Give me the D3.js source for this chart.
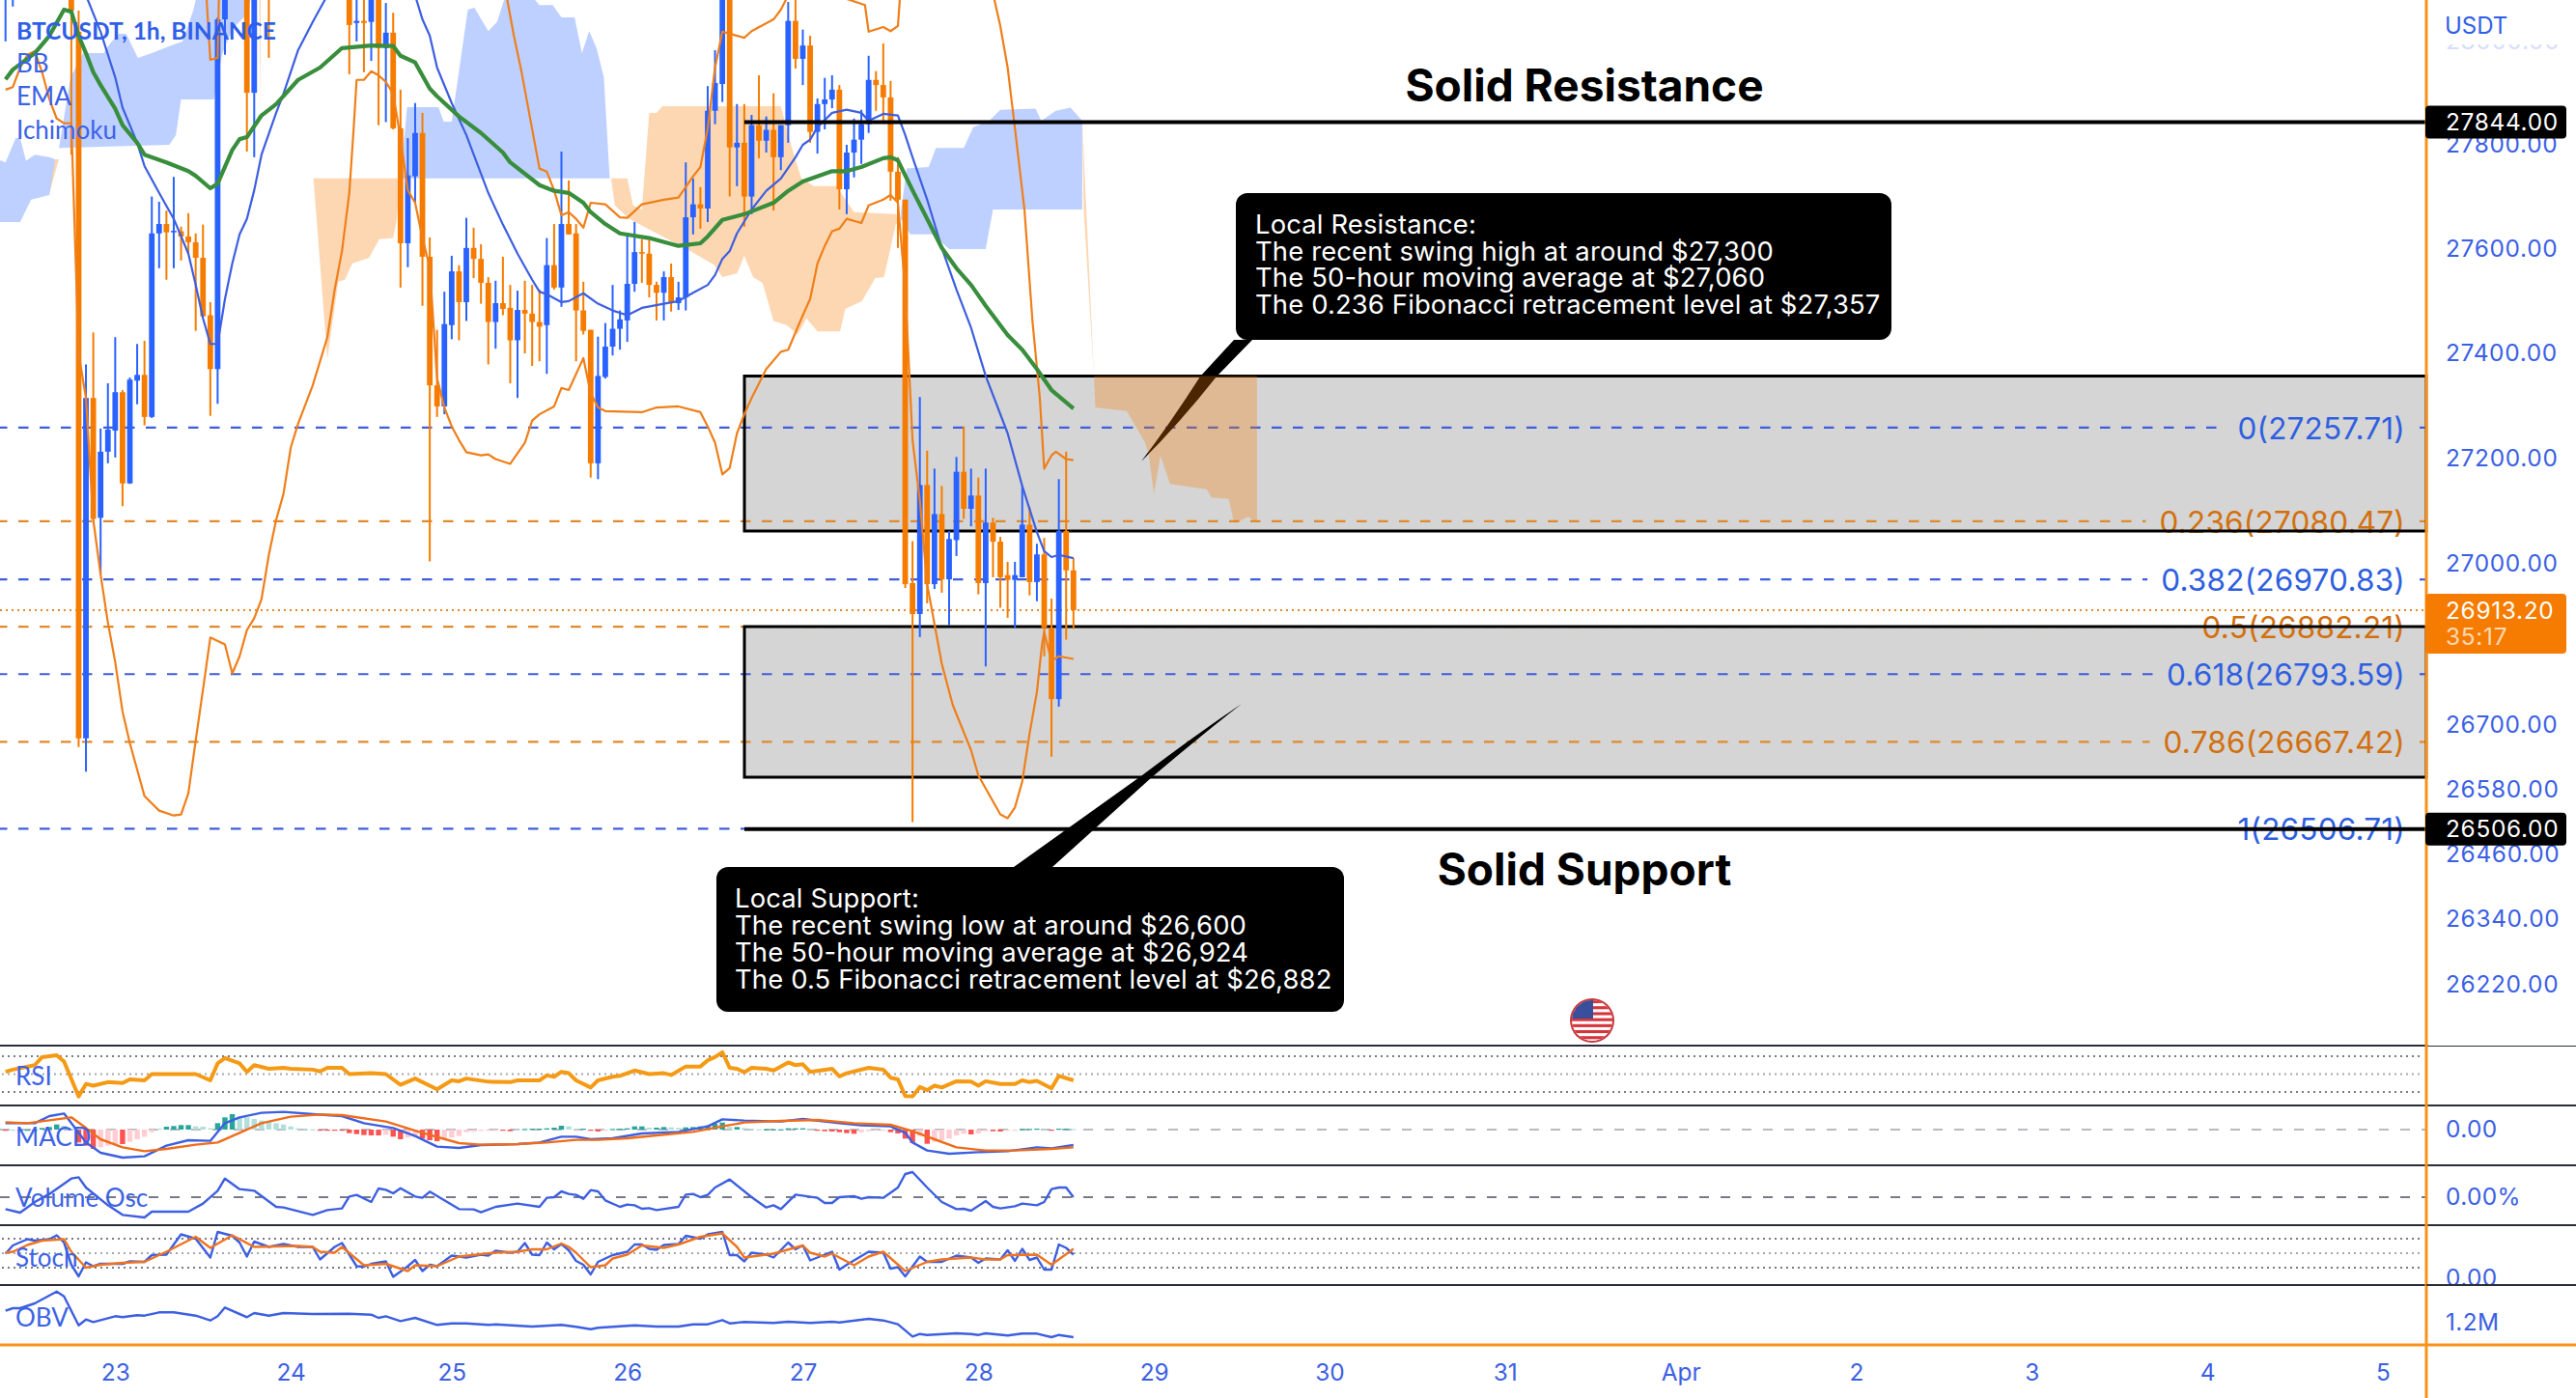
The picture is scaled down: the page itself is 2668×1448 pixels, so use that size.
<!DOCTYPE html>
<html><head><meta charset="utf-8">
<style>html,body{margin:0;padding:0;background:#fff}svg{display:block}</style>
<script src="https://cdnjs.cloudflare.com/ajax/libs/d3/7.8.5/d3.min.js"></script>
</head><body><div id="c"></div>
<script>
// ---------- data ----------
const title = "BTCUSDT, 1h, BINANCE";
const studies = ["BB","EMA","Ichimoku"];
const priceTicks = [27800,27600,27400,27200,27000,26700,26580,26460,26340,26220];
const dayTicks = [[15,"23"],[39,"24"],[61,"25"],[85,"26"],[109,"27"],[133,"28"],[157,"29"],[181,"30"],[205,"31"],[229,"Apr"],[253,"2"],[277,"3"],[301,"4"],[325,"5"]];
const fibRatios = ["0","0.236","0.382","0.5","0.618","0.786","1"];
const fibPrices = [27257.71,27080.47,26970.83,26882.21,26793.59,26667.42,26506.71];
const resistanceLevel = 27844, supportLevel = 26506, lastPrice = 26913.20;
const resistanceLines = ["Local Resistance:","The recent swing high at around $27,300","The 50-hour moving average at $27,060","The 0.236 Fibonacci retracement level at $27,357"];
const supportLines = ["Local Support:","The recent swing low at around $26,600","The 50-hour moving average at $26,924","The 0.5 Fibonacci retracement level at $26,882"];
// candle: hour index, open, high, low, close
const candleRows = [
[0,28110,28200,28001,28180],[1,28100,28200,28069,28180],
[9,28180,28200,27781,28061],[10,28020,28061,26658,26674],[11,26674,27378,26612,27314],[12,27314,27439,27084,27085],[13,27087,27256,26980,27212],[14,27212,27342,27190,27254],[15,27252,27430,27201,27325],[16,27325,27329,27109,27152],[17,27152,27353,27151,27349],[18,27347,27417,27302,27358],[19,27358,27423,27262,27278],[20,27278,27700,27276,27629],[21,27629,27690,27562,27647],[22,27647,27673,27540,27631],[23,27631,27738,27562,27634],[24,27633,27642,27577,27623],[25,27623,27668,27590,27612],[26,27612,27629,27442,27582],[27,27582,27646,27468,27470],[28,27472,27497,27280,27369],[29,27369,28048,27303,28044],[30,28044,28200,27975,28150],
[33,28150,28200,27787,27901],[34,27901,28200,27776,28150],[36,28160,28200,27969,28110],
[47,28150,28200,27937,28033],[48,28037,28082,28001,28041],[49,28041,28082,27941,28037],[50,28039,28200,27963,28150],[51,28150,28200,27838,27988],[52,27988,28076,27844,28018],[53,28018,28057,27830,27832],[54,27832,27907,27525,27610],[55,27610,27813,27564,27741],[56,27739,27881,27688,27823],[57,27823,27862,27490,27584],[58,27584,27621,27005,27338],[59,27338,27444,27278,27298],[60,27298,27517,27283,27455],[61,27453,27586,27426,27556],[62,27556,27568,27424,27497],[63,27497,27659,27461,27601],[64,27601,27640,27543,27580],[65,27580,27608,27494,27534],[66,27534,27545,27378,27459],[67,27459,27538,27408,27495],[68,27495,27584,27472,27484],[69,27486,27530,27342,27424],[70,27424,27519,27314,27482],[71,27482,27538,27399,27475],[72,27475,27530,27375,27459],[73,27459,27521,27384,27450],[74,27453,27620,27360,27568],[75,27568,27647,27521,27525],[76,27525,27787,27488,27647],[77,27647,27731,27627,27627],[78,27629,27647,27384,27481],[79,27481,27536,27435,27442],[80,27444,27444,27163,27190],[81,27190,27431,27160,27356],[82,27354,27457,27351,27412],[83,27412,27530,27395,27446],[84,27446,27481,27406,27464],[85,27462,27629,27421,27532],[86,27532,27651,27517,27593],[87,27593,27618,27534,27590],[88,27590,27616,27506,27530],[89,27530,27536,27462,27515],[90,27515,27556,27462,27545],[91,27545,27571,27479,27495],[92,27495,27536,27482,27506],[93,27506,27766,27481,27660],[94,27660,27735,27627,27685],[95,27685,27718,27638,27677],[96,27677,27914,27651,27866],[97,27866,27984,27840,27920],[98,27918,28200,27883,28150],[99,28150,28200,27700,27795],[100,27795,27879,27720,27804],[101,27804,27879,27642,27700],[102,27700,27858,27666,27838],[103,27838,27935,27774,27808],[104,27808,27855,27785,27829],[105,27829,27900,27673,27776],[106,27776,27838,27751,27838],[107,27838,28078,27804,28041],[108,28041,28100,27948,27967],[109,27967,28024,27916,27993],[110,27993,28012,27804,27825],[111,27825,27890,27783,27879],[112,27879,27930,27830,27888],[113,27888,27935,27871,27907],[114,27907,27916,27675,27714],[115,27714,27800,27666,27785],[116,27785,27851,27737,27810],[117,27810,27868,27763,27840],[118,27840,27973,27823,27926],[119,27926,27943,27866,27916],[120,27916,27997,27844,27892],[121,27892,27924,27692,27748],[122,27748,27776,27601,27694],[123,27694,27694,26955,26962],[124,26964,27043,26519,26906],[125,26906,27316,26863,27149],[126,27149,27214,26926,26962],[127,26962,27180,26953,27094],[128,27094,27147,26946,26971],[129,26971,27062,26885,27047],[130,27045,27202,27015,27174],[131,27174,27260,27085,27104],[132,27104,27180,27071,27129],[133,27129,27163,26943,26964],[134,26964,27180,26808,27078],[135,27078,27087,26975,27042],[136,27042,27051,26918,26975],[137,26979,27004,26899,26970],[138,26970,27004,26880,26979],[139,26975,27147,26975,27074],[140,27074,27107,26941,26966],[141,26966,27038,26930,27018],[142,27018,27049,26827,26880],[143,26880,26935,26640,26747],[144,26747,27160,26733,27062],[145,27062,27212,26858,26988],[146,26988,27011,26878,26913.2]];
const emaSlow = [[0,27927],[1,27946],[4,27978],[6,28012],[8,28063],[9,28059],[10,28012],[11,27978],[12,27941],[13,27916],[15,27870],[16,27838],[18,27804],[19,27781],[22,27766],[25,27749],[26,27740],[28,27716],[29,27725],[31,27790],[32,27811],[33,27815],[35,27857],[37,27879],[40,27926],[43,27950],[46,27988],[50,27993],[53,27992],[54,27973],[56,27960],[58,27909],[59,27894],[62,27855],[65,27823],[68,27785],[69,27766],[73,27722],[75,27711],[77,27707],[79,27688],[80,27670],[82,27647],[84,27629],[88,27620],[92,27605],[95,27610],[96,27623],[98,27655],[101,27666],[105,27688],[107,27711],[109,27729],[113,27749],[115,27749],[117,27757],[120,27774],[121,27776],[122,27770],[124,27712],[126,27657],[128,27601],[130,27562],[132,27530],[134,27490],[137,27434],[139,27406],[141,27369],[143,27329],[146,27294]];
const emaFast = [[11,28091],[13,28020],[15,27931],[16,27872],[18,27804],[19,27759],[21,27707],[23,27657],[25,27590],[26,27530],[27,27466],[28,27417],[29,27417],[30,27503],[31,27571],[32,27627],[33,27657],[34,27712],[35,27781],[37,27862],[38,27899],[40,27984],[42,28039],[44,28091],[50,28300],[56,28091],[57,28044],[58,28012],[59,27950],[61,27881],[63,27819],[65,27744],[66,27707],[68,27646],[70,27590],[72,27540],[73,27517],[74,27512],[76,27497],[77,27499],[79,27514],[81,27494],[83,27481],[85,27472],[87,27486],[90,27494],[92,27499],[94,27515],[96,27530],[97,27549],[98,27580],[99,27595],[100,27629],[102,27675],[104,27711],[106,27735],[108,27776],[109,27800],[110,27810],[111,27834],[113,27862],[115,27868],[117,27862],[118,27847],[120,27860],[122,27857],[123,27819],[124,27776],[126,27694],[128,27601],[130,27521],[132,27448],[134,27356],[137,27247],[139,27147],[141,27060],[142,27024],[143,27013],[144,27017],[146,27011]];
const bbLower = [[0,27907],[1,27912],[2,27950],[3,27975],[4,27982],[5,27941],[6,27888],[7,27851],[8,27842],[9,27842],[10,27399],[11,27314],[12,27083],[13,26980],[14,26890],[15,26816],[16,26724],[17,26665],[19,26567],[21,26540],[23,26531],[24,26533],[25,26572],[26,26670],[27,26765],[28,26862],[30,26849],[31,26795],[32,26827],[33,26876],[34,26898],[35,26934],[36,27017],[37,27083],[38,27132],[39,27220],[40,27265],[42,27338],[44,27430],[45,27521],[46,27595],[47,27707],[47.6,27832],[48,27926],[49,27926],[50,27943],[51,27935],[52,27922],[53,27899],[54,27813],[55,27712],[56,27688],[57,27620],[58,27564],[59,27351],[60,27296],[61,27260],[62,27234],[63,27211],[65,27205],[66,27207],[67,27198],[69,27189],[71,27229],[72,27271],[73,27283],[75,27298],[76,27333],[77,27329],[79,27390],[80,27323],[81,27296],[82,27289],[87,27287],[89,27296],[92,27298],[95,27287],[96,27260],[97,27229],[98,27169],[99,27181],[100,27247],[101,27283],[102,27314],[104,27369],[106,27402],[107,27406],[109,27472],[110,27503],[111,27571],[112,27605],[113,27633],[114,27638],[115,27657],[117,27649],[118,27683],[120,27694],[121,27703],[122,27688],[123,27521],[124,27234],[125,27120],[126,26962],[128,26813],[129.5,26736],[132,26652],[133,26605],[136,26533],[137,26526],[138,26546],[139,26594],[140,26683],[141,26760],[141.7,26849],[142,26872],[143,26818],[144,26827],[146,26822]];
const bbUpper = [[26,28367],[27.5,28082],[28,27965],[29,27969],[30,28650],[66,28367],[68,28101],[68.6,28082],[69.5,28012],[70.5,27945],[73,27754],[74,27748],[75,27712],[76,27664],[77,27670],[78,27657],[79,27640],[80,27688],[82,27685],[84,27660],[85,27659],[87,27685],[90,27694],[92,27698],[94,27739],[95,27757],[96,27832],[97,27950],[98,28020],[99,28016],[101,28008],[102,28021],[105,28044],[106,28063],[107,28091],[115,28084],[117.5,28072],[118,28020],[120,28029],[121,28021],[122,28031],[122.3,28091],[130,28462],[135.2,28082],[136,28031],[137,27950],[138,27832],[139.3,27675],[140.4,27460],[141.4,27314],[142,27180],[143,27205],[143.6,27212],[145,27198],[146,27196]];
const cloudBlueA = [[-0.75,27770],[0,27766],[1.4,27813],[2,27813],[2.8,27769],[4,27781],[6,27776],[6.8,27772],[6,27703],[3.5,27694],[2,27651],[-0.75,27651]];
const cloudBlueB = [[7.3,27794],[8.9,27931],[10.6,27978],[13.4,27978],[14.3,27997],[15.5,28016],[16.5,28016],[18.1,27969],[20,27978],[22.4,27992],[24.2,28001],[25.7,28063],[26.1,28088],[33.6,28088],[33,28054],[31,28025],[29.6,27975],[28.5,27888],[24,27888],[23.3,27819],[22.4,27800]];
const cloudBlueC = [[54,27735],[54.9,27873],[59.2,27873],[59.9,27845],[61,27845],[61.5,27894],[63.2,28063],[64.1,28067],[66,28021],[67.2,28039],[68.3,28088],[72,28088],[73,28072],[74.8,28072],[76,28048],[77.8,28048],[78.8,27978],[79.8,28021],[80.8,27988],[81.8,27931],[82.6,27735]];
const cloudBlueD = [[122.4,27670],[123.2,27754],[126.2,27757],[127.2,27794],[131,27794],[132.3,27834],[134.5,27847],[136,27868],[140.8,27870],[141.6,27847],[143.6,27866],[145.6,27872],[147.2,27847],[147.2,27675],[135,27675],[134,27599],[129,27599],[126.7,27627],[123.7,27627],[122.4,27657]];
const cloudOrangeA = [[6,27707],[6.8,27772],[7.3,27772]];
const cloudOrangeB = [[34.7,28088],[34.9,28088],[34.8,27868]];
const cloudOrangeC = [[42.1,27735],[54,27735],[53.5,27657],[53,27620],[51.1,27618],[49.7,27582],[47.4,27571],[46.4,27540],[45.5,27536],[44,27388]];
const cloudOrangeD = [[82.8,27735],[85,27735],[85.8,27683],[87,27675],[88,27862],[89,27862],[89.8,27875],[106,27875],[107.5,27794],[108.8,27735],[110.5,27720],[113.6,27720],[116,27670],[121.7,27666],[122.4,27657],[121.7,27646],[120.1,27545],[118.9,27543],[117.1,27499],[114.8,27484],[114.1,27441],[111,27441],[109.5,27466],[108.3,27435],[106.8,27453],[105,27461],[103.5,27534],[102.2,27545],[101,27586],[100,27552],[98,27545],[96.9,27568],[93.6,27595],[85.3,27657],[83.3,27683]];
const cloudOrangeE = [[147.2,27847],[147.4,27675],[148.8,27356],[171.1,27356],[171.1,27078],[169.9,27089],[168,27076],[167.2,27123],[164.9,27125],[164.2,27141],[159.2,27151],[157.9,27205],[157,27132],[156.3,27205],[155.8,27229],[153.3,27289],[149,27296]];
const rsi = [[0,52.5],[1,55],[4,60],[5,69],[7,71],[8,64],[10,25],[11,39],[12,37],[14,41],[16,40],[17,44],[19,43],[20,50],[26,50],[28,43],[29,62],[30,68],[32,62],[33,52.5],[34,60],[36,56],[38,57],[39,56],[42,55],[43,53],[44,57],[46,57],[47,50],[50,51],[52,50],[54,38],[56,45],[59,33],[61,43],[62,42],[63,45],[66,41.5],[69,41],[70,43],[73,43],[74,48.5],[75,47],[76,52.5],[77,51],[78,43],[80,35],[81,43],[83,47],[84,48],[86,54],[88,50],[90,51],[91,49],[93,58.5],[95,58.5],[96,65.5],[97,69],[98,74.5],[99,57],[100,56],[101,52],[102,57],[104,56],[105,54],[107,63],[108,60],[109,61],[110,52.5],[113,56],[114,47.5],[115,51],[118,57],[120,55],[121,46],[122,44],[123,25.5],[124,25],[125,35.5],[126,32],[127,37],[128,35],[130,42],[132,41.5],[133,37],[134,42],[136,39],[138,39],[139,43],[140,41],[141,42.5],[143,34],[144,48],[146,43]];
const macdLine = [[0,20],[4,20],[6,42],[8,50],[9,20],[11,-40],[13,-72],[16,-87],[19,-83],[22,-50],[25,-33],[28,-35],[30,20],[32,38],[35,52],[38,55],[42,48],[46,42],[49,20],[53,5],[56,-20],[59,-53],[62,-57],[65,-48],[70,-45],[73,-40],[76,-22],[78,-22],[80,-30],[83,-27],[87,-12],[92,-7],[96,10],[98,32],[101,28],[106,25],[109,33],[114,20],[117,13],[121,10],[123,-10],[124,-40],[126,-65],[129,-75],[133,-70],[137,-67],[141,-55],[143,-58],[146,-48]];
const macdSignal = [[0,23],[3,20],[9,38],[11,5],[13,-30],[16,-55],[19,-67],[22,-60],[26,-47],[29,-40],[32,-10],[35,20],[39,40],[43,47],[46,45],[52,25],[57,-10],[62,-42],[65,-47],[70,-45],[74,-40],[78,-32],[81,-32],[85,-27],[89,-18],[94,-7],[98,10],[101,22],[106,27],[111,30],[116,20],[121,15],[124,-5],[127,-30],[130,-55],[134,-65],[138,-65],[143,-60],[146,-55]];
const macdHist = [-1,0,0,0,0,5,8,16,12,3,-40,-50,-60,-55,-50,-45,-45,-38,-30,-22,-8,3,9,11,14,14,10,9,4,20,38,48,40,38,33,28,24,20,16,10,4,2,1,-1,-1,-3,-3,-11,-14,-17,-18,-18,-16,-22,-30,-25,-22,-28,-33,-36,-30,-25,-20,-8,-6,-4,-3,-1,-1,-5,1,2,3,3,4,6,12,10,3,3,-3,-6,-1,2,3,4,10,10,6,6,8,7,5,7,8,10,13,18,22,8,8,5,3,1,1,1,1,4,4,4,1,-1,-5,-6,-8,-11,-13,-8,-5,-3,-2,-8,-12,-28,-42,-20,-44,-38,-33,-28,-18,-13,-15,-12,-5,-5,-6,-3,-1,2,2,3,1,-2,3,3,2];
const volumeOsc = [[0,-18.5],[2,-24],[4,-7.5],[6,5],[9,29],[10,31],[11,15],[14,-12.5],[16,-27.5],[19,-31.5],[20,-22.5],[25,-22.5],[27,-10],[29,10],[30,29],[32,12.5],[34,10],[37,-15],[38,-16],[42,-27.5],[44,-20],[46,-17.5],[47,1],[48,3.5],[50,-7.5],[51,13.5],[52,11.5],[53,6],[54,14],[56,1],[57,-1],[58,8.5],[62,-18.5],[64,-19],[65,-23.5],[67,-15],[70,-10],[73,-15],[74,-1],[75,0],[76,9],[77,5],[78,3.5],[79,-2.5],[80,11],[81,9],[82,-5],[84,-15],[85,-11.5],[86,-12.5],[87,-18],[88,-17],[89,-20],[92,-15],[93,4],[94,5],[95,0],[96,3.5],[97,15],[99,27.5],[102,0],[104,-16],[105,-12.5],[106,-18.5],[108,4],[111,-1],[112,-9],[113,-9],[114,0],[116,1.5],[117,-2.5],[118,0],[120,-1],[122,15],[123,36],[124,39],[126,15],[128,-7.5],[130,-18.5],[131,-18],[132,-21],[134,-6],[135,-15],[136,-17.5],[138,-14],[139,-10],[141,-12.5],[142,-7.5],[143,12.5],[144,15],[145,15],[146,0]];
const stochK = [[0,49],[1,66],[3,79],[4,76],[6,79],[7,87],[8,72],[9,26],[10,2],[11,31],[12,23],[13,28],[16,28],[17,33],[19,32],[20,46],[22,47],[24,89],[26,80],[28,41],[29,94],[31,86],[32,72],[33,43],[34,74],[36,63],[38,69],[40,63],[42,63],[43,37],[45,63],[46,71],[48,23],[49,22],[50,28],[52,33],[53,1],[55,23],[56,36],[57,13],[58,26],[59,23],[61,45],[63,41],[65,47],[66,45],[67,55],[69,51],[70,53],[71,71],[72,47],[73,46],[74,72],[75,58],[76,69],[77,56],[78,34],[79,26],[80,6],[81,32],[83,46],[85,53],[86,68],[87,68],[88,59],[89,57],[90,67],[92,69],[93,86],[95,80],[96,89],[98,94],[99,46],[100,46],[101,33],[102,51],[104,47],[105,41],[107,72],[108,58],[109,66],[110,35],[113,53],[114,16],[115,26],[118,53],[120,51],[121,18],[122,21],[123,2],[125,43],[126,32],[128,32],[130,45],[132,41],[133,30],[134,39],[136,37],[137,56],[138,34],[139,59],[140,36],[141,41],[142,16],[143,16],[144,68],[145,61],[146,47]];
const stochD = [[0,51],[1,53],[3,67],[5,76],[8,79],[9,53],[11,20],[13,26],[16,30],[19,32],[22,53],[26,84],[28,61],[31,87],[34,63],[40,65],[42,63],[43,53],[45,51],[46,63],[49,25],[52,28],[55,13],[56,25],[59,23],[62,43],[65,48],[67,51],[70,53],[72,58],[74,58],[76,70],[77,63],[78,51],[80,21],[82,25],[83,39],[85,47],[87,66],[90,61],[92,68],[95,84],[98,91],[100,63],[101,41],[105,49],[109,66],[110,51],[112,43],[113,49],[116,25],[118,43],[120,53],[123,13],[126,32],[128,37],[132,41],[134,37],[136,37],[137,46],[141,47],[143,26],[146,59]];
const obv = [[0,1.323],[1,1.35],[2,1.35],[4,1.4],[7,1.523],[8,1.473],[10,1.173],[11,1.233],[12,1.207],[15,1.267],[16,1.257],[18,1.277],[19,1.273],[21,1.307],[23,1.307],[26,1.273],[28,1.223],[29,1.267],[30,1.357],[33,1.257],[34,1.3],[36,1.273],[38,1.3],[42,1.29],[47,1.293],[50,1.283],[51,1.25],[52,1.267],[54,1.217],[56,1.25],[59,1.177],[61,1.193],[63,1.193],[66,1.177],[67,1.183],[72,1.16],[76,1.177],[78,1.157],[80,1.133],[81,1.147],[86,1.173],[89,1.16],[92,1.16],[94,1.183],[96,1.183],[98,1.227],[99,1.193],[101,1.207],[105,1.197],[107,1.21],[110,1.197],[113,1.21],[114,1.203],[118,1.24],[120,1.223],[122,1.183],[124,1.057],[125,1.083],[126,1.073],[130,1.09],[132,1.083],[133,1.073],[134,1.09],[137,1.067],[139,1.087],[141,1.087],[143,1.05],[144,1.073],[146,1.05]];

// ---------- layout / scales ----------
const W=2668,H=1448,axisX=2513,paneBottom=1393;
const BLUE="#2962ff",ORANGE="#f57c00",TXT="#3b60e4",AX="#f7931a",UI="Inter, 'Noto Sans', sans-serif",LEG="Lato, sans-serif";
const x=d3.scaleLinear().domain([0,146]).range([5.7,1111.8]);
const y=d3.scaleLog().domain([27800,26220]).range([150,1020]);
const yRsi=d3.scaleLinear().domain([30,70]).range([1131,1094]);
const yMacd=d3.scaleLinear().domain([-90,90]).range([1200,1140]);
const yVol=d3.scaleLinear().domain([-30,30]).range([1260,1220]);
const yStoch=d3.scaleLinear().domain([20,80]).range([1313,1283]);
const yObv=d3.scaleLinear().domain([1.2,2]).range([1370,1290]);
const svg=d3.select("#c").append("svg").attr("width",W).attr("height",H).style("font-family",UI);
const defs=svg.append("defs");
defs.append("clipPath").attr("id","main").append("rect").attr("x",0).attr("y",0).attr("width",axisX).attr("height",1083);
defs.append("clipPath").attr("id","faint").append("rect").attr("x",axisX).attr("y",46).attr("width",W-axisX).attr("height",30);
defs.append("clipPath").attr("id","flag").append("circle").attr("cx",1649).attr("cy",1057).attr("r",21);
const pl=(sy)=>d3.line().x(d=>x(d[0])).y(d=>sy(d[1]));

// grey zones
const zones=[{t:389.5,b:550},{t:649,b:805}];
svg.selectAll(".zone").data(zones).join("rect").attr("x",771).attr("width",axisX-771).attr("y",d=>d.t).attr("height",d=>d.b-d.t).attr("fill","#d5d5d5");

// fib lines
const fib=fibPrices.map((p,i)=>({p,r:fibRatios[i],c:i%2?"#e08a2e":"#3f5ddc",t:i%2?"#d2700f":"#2f5fe0"}));
const fg=svg.append("g");
fib.forEach(f=>{
  const lab=fg.append("text").attr("x",2491).attr("y",y(f.p)+12).attr("text-anchor","end").attr("font-size",31.5).attr("letter-spacing",0.2).attr("fill",f.t).text(`${f.r}(${f.p.toFixed(2)})`);
  const start=2491-lab.node().getComputedTextLength();
  fg.append("line").attr("x1",0).attr("x2",start-14).attr("y1",y(f.p)).attr("y2",y(f.p)).attr("stroke",f.c).attr("stroke-width",2.2).attr("stroke-dasharray","10.5 11.5").attr("stroke-dashoffset",3);
  fg.append("line").attr("x1",2506).attr("x2",axisX).attr("y1",y(f.p)).attr("y2",y(f.p)).attr("stroke",f.c).attr("stroke-width",2.2);
});
svg.append("line").attr("x1",0).attr("x2",axisX).attr("y1",y(lastPrice)).attr("y2",y(lastPrice)).attr("stroke","#e8882a").attr("stroke-width",2).attr("stroke-dasharray","2 4");
svg.selectAll(".zoneb").data(zones).join("rect").attr("x",771).attr("width",axisX-771).attr("y",d=>d.t).attr("height",d=>d.b-d.t).attr("fill","none").attr("stroke","#000").attr("stroke-width",3);

// callouts
const callG=svg.append("g");
callG.append("path").attr("d","M1278,352 L1243,390 Q1213,437 1182,478 Q1222,438 1260,390 L1297,352 Z").attr("fill","#000");
callG.append("path").attr("d","M1050,898 L1183,803 Q1240,760 1286,729 Q1240,765 1193,805 L1090,898 Z").attr("fill","#000");
callG.append("rect").attr("x",1280).attr("y",200).attr("width",679).attr("height",152).attr("rx",12).attr("fill","#000");
callG.append("rect").attr("x",742).attr("y",898).attr("width",650).attr("height",150).attr("rx",12).attr("fill","#000");

// clouds
const cloud=(pts,fill)=>svg.append("path").attr("clip-path","url(#main)").attr("d",pl(y)(pts)+"Z").attr("fill",fill);
[cloudBlueA,cloudBlueB,cloudBlueC,cloudBlueD].forEach(p=>cloud(p,"rgba(41,98,255,0.3)"));
[cloudOrangeA,cloudOrangeB,cloudOrangeC,cloudOrangeD,cloudOrangeE].forEach(p=>cloud(p,"rgba(246,124,0,0.3)"));

// candles
const cg=svg.append("g").attr("clip-path","url(#main)");
const col=d=>d[4]>=d[1]?BLUE:ORANGE;
cg.selectAll(".w").data(candleRows).join("line").attr("x1",d=>x(d[0])).attr("x2",d=>x(d[0])).attr("y1",d=>y(d[2])).attr("y2",d=>y(d[3])).attr("stroke",col).attr("stroke-width",2);
cg.selectAll(".b").data(candleRows).join("rect").attr("x",d=>x(d[0])-2.9).attr("width",5.8).attr("y",d=>y(Math.max(d[1],d[4]))).attr("height",d=>Math.max(1.6,Math.abs(y(d[1])-y(d[4])))).attr("fill",col);

// overlays
const ov=(pts,c,w)=>svg.append("path").attr("clip-path","url(#main)").attr("d",pl(y)(pts)).attr("fill","none").attr("stroke",c).attr("stroke-width",w).attr("stroke-linejoin","round");
ov(bbLower,"#ef7f1a",2.2);ov(bbUpper,"#ef7f1a",2.2);ov(emaFast,"#3d5fe0",2.2);ov(emaSlow,"#388e3c",4.2);

// resistance/support
[resistanceLevel,supportLevel].forEach(p=>svg.append("line").attr("x1",771).attr("x2",axisX).attr("y1",y(p)).attr("y2",y(p)).attr("stroke","#000").attr("stroke-width",4));

// callout text
const ctext=(lines,tx,ys)=>lines.forEach((t,i)=>svg.append("text").attr("x",tx).attr("y",ys[i]).attr("font-size",27.4).attr("fill","#fff").attr("letter-spacing",0.15).text(t));
ctext(resistanceLines,1300,[242,270,297,325]);
ctext(supportLines,761,[940,968,996,1024]);
[["Solid Resistance",105],["Solid Support",917]].forEach(([t,yy])=>svg.append("text").attr("x",1641).attr("y",yy).attr("text-anchor","middle").attr("font-size",46).attr("font-weight",700).attr("fill","#000").text(t));

// flag
const fl=svg.append("g");
fl.append("circle").attr("cx",1649).attr("cy",1057).attr("r",23).attr("fill","#c63a3e");
fl.append("circle").attr("cx",1649).attr("cy",1057).attr("r",21).attr("fill","#fff");
const fgi=fl.append("g").attr("clip-path","url(#flag)");
d3.range(0,7).forEach(k=>fgi.append("rect").attr("x",1628).attr("y",1036+k*6.2).attr("width",42).attr("height",3.1).attr("fill","#d8343c"));
fgi.append("rect").attr("x",1628).attr("y",1036).attr("width",22).attr("height",19).attr("fill","#3a4f9c");

// panes
const paneLines=[1083,1145,1207,1269,1331];
svg.selectAll(".pane").data(paneLines).join("line").attr("x1",0).attr("x2",W).attr("y1",d=>d).attr("y2",d=>d).attr("stroke","#2a2e39").attr("stroke-width",2);
const dotted=[[yRsi,70],[yRsi,50],[yRsi,30],[yStoch,80],[yStoch,50],[yStoch,20]];
dotted.forEach(([s,v],i)=>svg.append("line").attr("x1",2).attr("x2",2510).attr("y1",s(v)).attr("y2",s(v)).attr("stroke",(i==1||i==4)?"#a5a7ae":"#787b86").attr("stroke-width",2).attr("stroke-dasharray","2 4"));
svg.append("line").attr("x1",0).attr("x2",axisX).attr("y1",yMacd(0)).attr("y2",yMacd(0)).attr("stroke","#b9bbc2").attr("stroke-width",2).attr("stroke-dasharray","10 12");
svg.append("line").attr("x1",0).attr("x2",axisX).attr("y1",yVol(0)).attr("y2",yVol(0)).attr("stroke","#787b86").attr("stroke-width",2).attr("stroke-dasharray","10 12");
// histogram
svg.append("g").selectAll("rect").data(macdHist).join("rect")
 .attr("x",(d,i)=>x(i)-2.7).attr("width",5.4)
 .attr("y",d=>Math.min(yMacd(d),yMacd(0))).attr("height",d=>Math.max(1.2,Math.abs(yMacd(d)-yMacd(0))))
 .attr("fill",(d,i)=>{const p=i?macdHist[i-1]:0;const g=Math.abs(d)>=Math.abs(p);return d>=0?(g?"#26a69a":"#b2dfdb"):(g?"#ff5252":"#ffcdd2");});
const pn=(pts,s,c,w)=>svg.append("path").attr("d",pl(s)(pts)).attr("fill","none").attr("stroke",c).attr("stroke-width",w).attr("stroke-linejoin","round");
pn(rsi,yRsi,"#f59a14",4);
pn(macdLine,yMacd,"#3d5fe0",2.4);pn(macdSignal,yMacd,"#ef6c1a",2.4);
pn(volumeOsc,yVol,"#3d5fe0",2.4);
pn(stochK,yStoch,"#3d5fe0",2.4);pn(stochD,yStoch,"#ef7420",2.4);
pn(obv,yObv,"#3d5fe0",2.4);

// legends
svg.append("text").attr("x",17).attr("y",41).attr("font-family",LEG).attr("font-weight",700).attr("font-size",24.5).attr("fill","#2f5fe8").text(title);
studies.forEach((t,i)=>svg.append("text").attr("x",17).attr("y",[75,109,144][i]).attr("font-family",LEG).attr("font-size",26).attr("fill","#3b62e6").text(t));
[["RSI",1124],["MACD",1187],["Volume Osc",1250],["Stoch",1312],["OBV",1374]].forEach(([t,yy])=>svg.append("text").attr("x",16).attr("y",yy).attr("font-family",LEG).attr("font-size",26).attr("fill","#3b62e6").text(t));

// axis lines
svg.append("rect").attr("x",axisX+1.5).attr("y",0).attr("width",W-axisX).attr("height",1083).attr("fill","#fff");
svg.append("line").attr("x1",0).attr("x2",W).attr("y1",paneBottom).attr("y2",paneBottom).attr("stroke",AX).attr("stroke-width",3);
svg.append("line").attr("x1",axisX).attr("x2",axisX).attr("y1",0).attr("y2",H).attr("stroke",AX).attr("stroke-width",3);
const AXF=24.4;
const yAxis=d3.axisRight(y).tickValues(priceTicks).tickSize(0).tickPadding(0).tickFormat(d3.format(".2f"));
const ga=svg.append("g").attr("transform",`translate(2533,0)`).call(yAxis);
ga.select(".domain").remove();
ga.selectAll("text").attr("font-family",UI).attr("font-size",AXF).attr("letter-spacing",0.7).attr("fill",TXT).attr("x",0);
svg.append("text").attr("x",2533).attr("y",y(28000)+8).attr("clip-path","url(#faint)").attr("font-size",AXF).attr("letter-spacing",0.7).attr("fill",TXT).attr("opacity",0.2).text("28000.00");
svg.append("text").attr("x",2532).attr("y",35).attr("font-size",24).attr("fill","#2f5fe8").text("USDT");
[["0.00",yMacd(0)+8],["0.00%",yVol(0)+8],["0.00",yStoch(0)+8.5],["1.2M",yObv(1.2)+8]].forEach(([t,yy])=>svg.append("text").attr("x",2533).attr("y",yy).attr("font-size",AXF).attr("letter-spacing",0.4).attr("fill",TXT).text(t));
svg.append("line").attr("x1",axisX).attr("x2",W).attr("y1",1331).attr("y2",1331).attr("stroke","#2a2e39").attr("stroke-width",2);
// price tags
const tag=(p,c)=>{const yy=y(p);svg.append("rect").attr("x",2512).attr("y",yy-17).attr("width",146).attr("height",34).attr("rx",4).attr("fill",c);
 svg.append("text").attr("x",2533).attr("y",yy+8.5).attr("font-size",AXF).attr("letter-spacing",0.7).attr("fill","#fff").text(p.toFixed(2));};
tag(resistanceLevel,"#000");tag(supportLevel,"#000");
const ly=y(lastPrice);
svg.append("rect").attr("x",2512).attr("y",ly-17).attr("width",146).attr("height",62).attr("rx",4).attr("fill",ORANGE);
svg.append("text").attr("x",2533).attr("y",ly+8.5).attr("font-size",AXF).attr("letter-spacing",0.7).attr("fill","#fff").text(lastPrice.toFixed(2));
svg.append("text").attr("x",2533).attr("y",ly+36).attr("font-size",AXF).attr("letter-spacing",0.7).attr("fill","#fff").attr("opacity",0.7).text("35:17");
// time axis
const xAxis=d3.axisBottom(x).tickValues(dayTicks.map(d=>d[0])).tickSize(0).tickPadding(0).tickFormat((d,i)=>dayTicks[i][1]);
const gx=svg.append("g").attr("transform","translate(0,1429.5)").call(xAxis);
gx.select(".domain").remove();
gx.selectAll("text").attr("font-family",UI).attr("font-size",AXF).attr("fill",TXT).attr("y",0).attr("dy",0);
</script></body></html>
